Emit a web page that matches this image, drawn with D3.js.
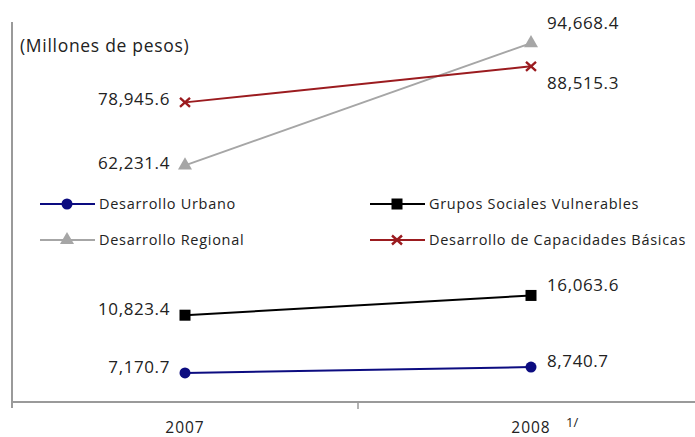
<!DOCTYPE html>
<html>
<head>
<meta charset="utf-8">
<script src="https://cdn.jsdelivr.net/npm/d3@7"></script>
<style>
  html, body { margin: 0; padding: 0; background: #fff; }
  svg { display: block; font-family: "Open Sans", "Noto Sans", sans-serif; }
</style>
</head>
<body>
<svg id="chart" width="695" height="437"></svg>
<script>
// Gasto por vertiente, millones de pesos
const years = ["2007", "2008"];
const seriesNames = [
  "Desarrollo Urbano",
  "Grupos Sociales Vulnerables",
  "Desarrollo Regional",
  "Desarrollo de Capacidades Básicas"
];
const desarrolloUrbano = [7170.7, 8740.7];
const gruposVulnerables = [10823.4, 16063.6];
const desarrolloRegional = [62231.4, 94668.4];
const capacidadesBasicas = [78945.6, 88515.3];
const unitLabel = "(Millones de pesos)";
const footnote = "1/";

const svg = d3.select("#chart");
const W = 695, H = 437;

// Category scale: two bands between the axis ticks
const x = d3.scaleBand().domain(years).range([12, 704]);
const cx = d => x(d) + x.bandwidth() / 2;

// Value scale; the lower black series is lifted on its own scale
const y = d3.scaleLinear().domain([0, 100000]).range([400, 23]);
const yLifted = d3.scaleLinear().domain([0, 100000]).range([356, -21]);

const series = [
  { name: seriesNames[0], values: desarrolloUrbano, color: "#0c0c80", marker: "circle", scale: y,
    labelLeft: { dy: -6 }, labelRight: { dy: -6 } },
  { name: seriesNames[1], values: gruposVulnerables, color: "#000000", marker: "square", scale: yLifted,
    labelLeft: { dy: -6 }, labelRight: { dy: -10 } },
  { name: seriesNames[2], values: desarrolloRegional, color: "#a6a6a6", marker: "triangle", scale: y,
    labelLeft: { dy: -2 }, labelRight: { dy: -20 } },
  { name: seriesNames[3], values: capacidadesBasicas, color: "#9b1b1f", marker: "cross", scale: y,
    labelLeft: { dy: -3 }, labelRight: { dy: 17 } }
];

const fmt = d3.format(",.1f");

// Axes
svg.append("line").attr("x1", 12).attr("x2", 12).attr("y1", 22).attr("y2", 408)
  .attr("stroke", "#9a9a9a").attr("stroke-width", 2);
svg.append("line").attr("x1", 12).attr("x2", W).attr("y1", 402).attr("y2", 402)
  .attr("stroke", "#9a9a9a").attr("stroke-width", 2);

const xAxis = d3.axisBottom(x).tickSize(0).tickPadding(0);
const gx = svg.append("g").attr("transform", "translate(0,402)").call(xAxis);
gx.select(".domain").remove();
gx.selectAll("text").attr("y", 19.5).attr("font-size", 15.5).attr("fill", "#222")
  .attr("letter-spacing", 1).attr("font-family", "'Open Sans', sans-serif");
// Band boundary ticks
svg.selectAll(".btick").data([x("2008")]).join("line")
  .attr("x1", d => d).attr("x2", d => d).attr("y1", 402).attr("y2", 409)
  .attr("stroke", "#9a9a9a").attr("stroke-width", 1.5);

svg.append("text").attr("x", cx("2008") + 35).attr("y", 427)
  .attr("font-size", 13).attr("fill", "#222").text(footnote);

// Unit label
svg.append("text").attr("x", 20).attr("y", 52).attr("font-size", 17.5).attr("letter-spacing", 0.7)
  .attr("fill", "#222").text(unitLabel);

function drawMarker(g, type, color) {
  if (type === "circle") {
    g.append("circle").attr("r", 5.5).attr("fill", color);
  } else if (type === "square") {
    g.append("rect").attr("x", -5.5).attr("y", -5.5).attr("width", 11).attr("height", 11).attr("fill", color);
  } else if (type === "triangle") {
    g.append("path").attr("d", d3.symbol().type(d3.symbolTriangle).size(85)()).attr("fill", color);
  } else if (type === "cross") {
    g.append("path").attr("d", "M-5,-4.5L5,4.5M-5,4.5L5,-4.5")
      .attr("stroke", color).attr("stroke-width", 2.4).attr("fill", "none");
  }
}

// Lines, markers and value labels
series.forEach(s => {
  const pts = years.map((yr, i) => [cx(yr), s.scale(s.values[i])]);
  svg.append("path").attr("d", d3.line()(pts)).attr("fill", "none")
    .attr("stroke", s.color).attr("stroke-width", 2);
  pts.forEach(p => {
    const g = svg.append("g").attr("transform", `translate(${p[0]},${p[1]})`);
    drawMarker(g, s.marker, s.color);
  });
  svg.append("text").attr("x", pts[0][0] - 15).attr("y", pts[0][1] + s.labelLeft.dy)
    .attr("dy", "0.35em").attr("text-anchor", "end").attr("font-size", 17)
    .attr("letter-spacing", 0.6).attr("fill", "#222")
    .text(fmt(s.values[0]));
  svg.append("text").attr("x", pts[1][0] + 16).attr("y", pts[1][1] + s.labelRight.dy)
    .attr("dy", "0.35em").attr("text-anchor", "start").attr("font-size", 17)
    .attr("letter-spacing", 0.6).attr("fill", "#222")
    .text(fmt(s.values[1]));
});

// Legend: two columns, two rows
const legendPos = [
  { x: 40, y: 204 }, { x: 370, y: 204 },
  { x: 40, y: 240 }, { x: 370, y: 240 }
];
const legendOrder = [0, 1, 2, 3];
legendOrder.forEach((si, k) => {
  const s = series[si], p = legendPos[k];
  const g = svg.append("g").attr("transform", `translate(${p.x},${p.y})`);
  g.append("line").attr("x1", 0).attr("x2", 55).attr("y1", 0).attr("y2", 0)
    .attr("stroke", s.color).attr("stroke-width", 2);
  const m = g.append("g").attr("transform", "translate(27,0)");
  drawMarker(m, s.marker, s.color);
  g.append("text").attr("x", 59).attr("y", 0).attr("dy", "0.35em")
    .attr("font-size", 14.5).attr("letter-spacing", 0.7).attr("fill", "#222").text(s.name);
});
</script>
</body>
</html>
